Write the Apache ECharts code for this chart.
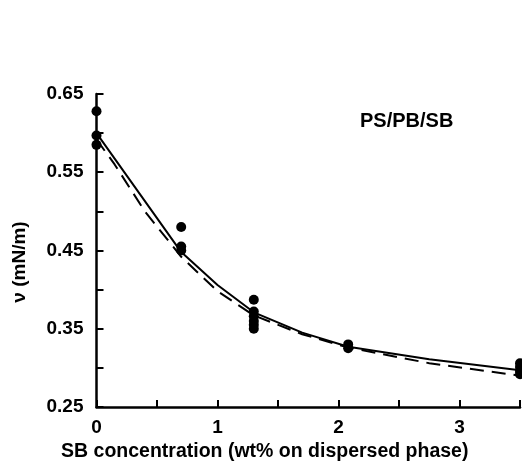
<!DOCTYPE html>
<html>
<head>
<meta charset="utf-8">
<script src="https://cdn.jsdelivr.net/npm/echarts@6/dist/echarts.min.js"></script>
<style>
html,body{margin:0;padding:0;background:#fff;}
#chart{width:522px;height:463px;}
</style>
</head>
<body>
<div id="chart"></div>
<script>
// Measured points (SB concentration, wt%) and interfacial tension nu (mN/m)
const measuredX = [0, 0, 0, 0.7, 0.7, 0.7, 1.3, 1.3, 1.3, 1.3, 1.3, 1.3, 2.08, 2.08, 3.5, 3.5, 3.5, 3.5];
const measuredY = [0.628, 0.597, 0.585, 0.480, 0.455, 0.450, 0.387, 0.372, 0.366, 0.360, 0.355, 0.350, 0.330, 0.325, 0.306, 0.301, 0.296, 0.292];
// Solid curve
const solidX = [0, 0.7, 1.0, 1.3, 1.7, 2.08, 2.75, 3.5];
const solidY = [0.600, 0.448, 0.406, 0.371, 0.345, 0.327, 0.311, 0.297];
// Dashed curve
const dashX = [0, 0.15, 0.4, 0.7, 1.0, 1.3, 1.7, 2.08, 2.75, 3.5];
const dashY = [0.592, 0.560, 0.500, 0.442, 0.398, 0.367, 0.343, 0.326, 0.306, 0.290];
// Tick labels
const xTickLabels = ['0', '1', '2', '3'];
const yTickLabels = ['0.25', '0.35', '0.45', '0.55', '0.65'];
const annotation = 'PS/PB/SB';
const xTitle = 'SB concentration (wt% on dispersed phase)';
const yTitle = 'ν (mN/m)';

const zip = (a, b) => a.map((v, i) => [v, b[i]]);
const FONT = 'Liberation Sans, Arial, sans-serif';

const chart = echarts.init(document.getElementById('chart'), null, {renderer: 'canvas'});
chart.setOption({
  animation: false,
  backgroundColor: '#fff',
  grid: {left: 96.5, right: 2, top: 94, bottom: 56, containLabel: false, outerBoundsMode: 'none'},
  xAxis: {
    type: 'value', min: 0, max: 3.5, interval: 0.5,
    name: xTitle, nameLocation: 'middle', nameGap: 32,
    nameTextStyle: {fontFamily: FONT, fontWeight: 'bold', fontSize: 19.5, color: '#000', padding: [0, 87, 0, 0]},
    axisLine: {show: true, onZero: false, lineStyle: {color: '#000', width: 2.5}},
    axisTick: {show: true, inside: true, length: 7, lineStyle: {color: '#000', width: 2}},
    splitLine: {show: false},
    axisLabel: {
      fontFamily: FONT, fontWeight: 'bold', fontSize: 19, color: '#000', margin: 11,
      formatter: v => { const r = Math.round(v * 10); return r % 10 === 0 ? xTickLabels[r / 10] : ''; }
    }
  },
  yAxis: {
    type: 'value', min: 0.25, max: 0.65, interval: 0.05,
    name: yTitle, nameLocation: 'middle', nameGap: 67, nameRotate: 90,
    nameTextStyle: {fontFamily: FONT, fontWeight: 'bold', fontSize: 19, color: '#000', padding: [0, 23, 0, 0]},
    axisLine: {show: true, onZero: false, lineStyle: {color: '#000', width: 2.5}},
    axisTick: {show: true, inside: true, length: 7, lineStyle: {color: '#000', width: 2}},
    splitLine: {show: false},
    axisLabel: {
      fontFamily: FONT, fontWeight: 'bold', fontSize: 19, color: '#000', margin: 13, padding: [6, 0, 0, 0],
      formatter: v => { const r = Math.round(v * 100) - 25; return r % 10 === 0 ? yTickLabels[r / 10] : ''; }
    }
  },
  graphic: [{
    type: 'text', left: 360, top: 111,
    style: {text: annotation, fontFamily: FONT, fontWeight: 'bold', fontSize: 20, fill: '#000'}
  }],
  series: [
    {
      type: 'line', data: zip(solidX, solidY), smooth: false,
      showSymbol: false, lineStyle: {color: '#000', width: 2, type: 'solid'}, z: 2
    },
    {
      type: 'line', data: zip(dashX, dashY), smooth: false,
      showSymbol: false, lineStyle: {color: '#000', width: 2, type: [14, 8]}, z: 2
    },
    {
      type: 'scatter', data: zip(measuredX, measuredY), symbol: 'circle', symbolSize: 10,
      itemStyle: {color: '#000', opacity: 1}, z: 3
    }
  ]
});
</script>
</body>
</html>
